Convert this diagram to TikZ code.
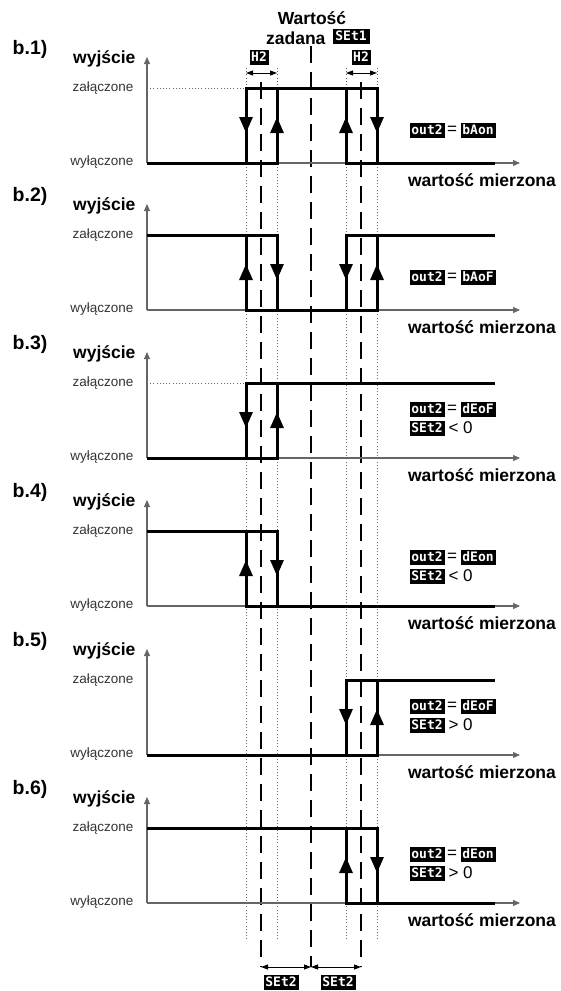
\documentclass[tikz,border=0pt]{standalone}
\usepackage{fontspec}
\setmainfont{Liberation Sans}
\newfontfamily\segfont{DejaVu Sans Mono}
\usetikzlibrary{arrows.meta}

\tikzset{
  axisline/.style={draw=black!60, line width=1.1pt, -{Triangle[width=6pt,length=7pt]}},
  outline/.style={line width=3pt, line join=miter},
  tipline/.style={line width=3pt, -{Triangle[width=13pt,length=16pt]}},
  dotline/.style={draw=black!60, line width=0.7pt, dash pattern=on 0.9pt off 2.3pt},
  dashline/.style={line width=1.8pt, dash pattern=on 17pt off 9pt},
  spanline/.style={line width=0.9pt, {Triangle[width=5pt,length=7pt]}-{Triangle[width=5pt,length=7pt]}},
  disp/.style={fill=black, text=white, font=\segfont\bfseries\fontsize{13}{13}\selectfont, inner sep=0.8pt, minimum height=15pt, minimum width=35pt},
  lab/.style={font=\fontsize{13.5}{14}\selectfont, text=black!80, anchor=east},
  big/.style={font=\bfseries\fontsize{17.5}{20}\selectfont},
  panel/.style={font=\bfseries\fontsize{19.5}{22}\selectfont},
  rel/.style={font=\fontsize{17}{18}\selectfont},
}

\begin{document}
\begin{tikzpicture}[x=1pt, y=-1pt]
	\useasboundingbox (0,0) rectangle (560,991);

	\node[big] (wart) at (312,18) {Wartość};
	\node[big, anchor=east] (zad) at (329,38) {zadana};
	\node[disp, minimum width=37pt] (set1) at (351,36) {SEt1};
	\node[disp, minimum width=19pt] (hl) at (259,57) {H2};
	\node[disp, minimum width=19pt] (hr) at (361,57) {H2};
	\draw[spanline] (246,73) -- (277,73);
	\draw[spanline] (346,73) -- (377,73);

	\draw[dotline] (246,68) -- (246,940);
	\draw[dotline] (277,68) -- (277,940);
	\draw[dotline] (346,68) -- (346,940);
	\draw[dotline] (377,68) -- (377,940);
	\draw[dashline] (261,82) -- (261,967);
	\draw[dashline] (311,46) -- (311,967);
	\draw[dashline] (361,82) -- (361,967);
	\draw[spanline] (261,967) -- (311,967);
	\draw[spanline] (311,967) -- (361,967);
	\node[disp] (sl) at (281,982) {SEt2};
	\node[disp] (sr) at (338,982) {SEt2};

	\node[panel] (b1) at (30,49) {b.1)};
	\node[big, anchor=east] (w1) at (139,59) {wyjście};
	\node[lab] (z1) at (137,88) {załączone};
	\node[lab] (y1) at (137,162) {wyłączone};
	\draw[axisline] (147,163) -- (147,57);
	\draw[axisline] (147,163) -- (520,163);
	\node[big] (m1) at (482,180) {wartość mierzona};
	\draw[dotline] (147,88) -- (246,88);
	\draw[outline] (147,163) -- (277,163) -- (277,88);
	\draw[outline] (246,163) -- (246,88) -- (377,88) -- (377,163) -- (495,163);
	\draw[outline] (346,88) -- (346,163) -- (377,163);
	\draw[tipline] (246,113) -- (246,133);
	\draw[tipline] (277,133) -- (277,117);
	\draw[tipline] (346,133) -- (346,117);
	\draw[tipline] (377,113) -- (377,133);
	\node[disp] (o1) at (427,130) {out2};
	\node[rel] (e1) at (452,130) {=};
	\node[disp] (v1) at (478,130) {bAon};

	\node[panel] (b2) at (30,196) {b.2)};
	\node[big, anchor=east] (w2) at (139,206) {wyjście};
	\node[lab] (z2) at (137,235) {załączone};
	\node[lab] (y2) at (137,309) {wyłączone};
	\draw[axisline] (147,310) -- (147,204);
	\draw[axisline] (147,310) -- (520,310);
	\node[big] (m2) at (482,327) {wartość mierzona};
	\draw[outline] (147,235) -- (277,235) -- (277,310);
	\draw[outline] (246,235) -- (246,310) -- (377,310) -- (377,235) -- (495,235);
	\draw[outline] (346,310) -- (346,235) -- (377,235);
	\draw[tipline] (246,280) -- (246,264);
	\draw[tipline] (277,260) -- (277,280);
	\draw[tipline] (346,260) -- (346,280);
	\draw[tipline] (377,280) -- (377,264);
	\node[disp] (o2) at (427,277) {out2};
	\node[rel] (e2) at (452,277) {=};
	\node[disp] (v2) at (478,277) {bAoF};

	\node[panel] (b3) at (30,344) {b.3)};
	\node[big, anchor=east] (w3) at (139,354) {wyjście};
	\node[lab] (z3) at (137,383) {załączone};
	\node[lab] (y3) at (137,457) {wyłączone};
	\draw[axisline] (147,458) -- (147,352);
	\draw[axisline] (147,458) -- (520,458);
	\node[big] (m3) at (482,475) {wartość mierzona};
	\draw[dotline] (147,383) -- (246,383);
	\draw[outline] (147,458) -- (277,458) -- (277,383);
	\draw[outline] (246,458) -- (246,383) -- (495,383);
	\draw[tipline] (246,408) -- (246,428);
	\draw[tipline] (277,428) -- (277,412);
	\node[disp] (o3) at (427,409) {out2};
	\node[rel] (e3) at (452,409) {=};
	\node[disp] (v3) at (478,409) {dEoF};
	\node[disp] (s3) at (427,428) {SEt2};
	\node[rel, anchor=west] (r3) at (445,428) {< 0};

	\node[panel] (b4) at (30,492) {b.4)};
	\node[big, anchor=east] (w4) at (139,502) {wyjście};
	\node[lab] (z4) at (137,531) {załączone};
	\node[lab] (y4) at (137,605) {wyłączone};
	\draw[axisline] (147,606) -- (147,500);
	\draw[axisline] (147,606) -- (520,606);
	\node[big] (m4) at (482,623) {wartość mierzona};
	\draw[outline] (147,531) -- (277,531) -- (277,606);
	\draw[outline] (246,531) -- (246,606) -- (495,606);
	\draw[tipline] (246,576) -- (246,560);
	\draw[tipline] (277,556) -- (277,576);
	\node[disp] (o4) at (427,557) {out2};
	\node[rel] (e4) at (452,557) {=};
	\node[disp] (v4) at (478,557) {dEon};
	\node[disp] (s4) at (427,576) {SEt2};
	\node[rel, anchor=west] (r4) at (445,576) {< 0};

	\node[panel] (b5) at (30,641) {b.5)};
	\node[big, anchor=east] (w5) at (139,651) {wyjście};
	\node[lab] (z5) at (137,680) {załączone};
	\node[lab] (y5) at (137,754) {wyłączone};
	\draw[axisline] (147,755) -- (147,649);
	\draw[axisline] (147,755) -- (520,755);
	\node[big] (m5) at (482,772) {wartość mierzona};
	\draw[outline] (147,755) -- (377,755) -- (377,680);
	\draw[outline] (346,755) -- (346,680) -- (495,680);
	\draw[tipline] (346,705) -- (346,725);
	\draw[tipline] (377,725) -- (377,709);
	\node[disp] (o5) at (427,706) {out2};
	\node[rel] (e5) at (452,706) {=};
	\node[disp] (v5) at (478,706) {dEoF};
	\node[disp] (s5) at (427,725) {SEt2};
	\node[rel, anchor=west] (r5) at (445,725) {> 0};

	\node[panel] (b6) at (30,789) {b.6)};
	\node[big, anchor=east] (w6) at (139,799) {wyjście};
	\node[lab] (z6) at (137,828) {załączone};
	\node[lab] (y6) at (137,902) {wyłączone};
	\draw[axisline] (147,903) -- (147,797);
	\draw[axisline] (147,903) -- (520,903);
	\node[big] (m6) at (482,920) {wartość mierzona};
	\draw[outline] (147,828) -- (377,828) -- (377,903);
	\draw[outline] (346,828) -- (346,903) -- (495,903);
	\draw[tipline] (346,873) -- (346,857);
	\draw[tipline] (377,853) -- (377,873);
	\node[disp] (o6) at (427,854) {out2};
	\node[rel] (e6) at (452,854) {=};
	\node[disp] (v6) at (478,854) {dEon};
	\node[disp] (s6) at (427,873) {SEt2};
	\node[rel, anchor=west] (r6) at (445,873) {> 0};
\end{tikzpicture}
\end{document}
